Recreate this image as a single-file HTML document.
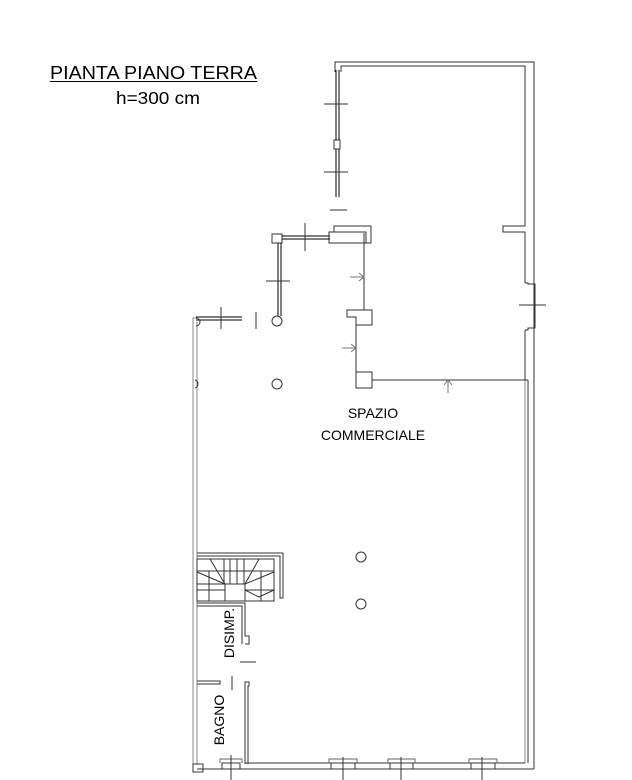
<!DOCTYPE html>
<html><head><meta charset="utf-8"><style>
html,body{margin:0;padding:0;background:#fff;}
svg{display:block;}
text{font-family:"Liberation Sans",Arial,sans-serif;fill:#000;}
</style></head><body>
<svg width="632" height="780" viewBox="0 0 632 780" xmlns="http://www.w3.org/2000/svg">
<text x="50" y="79" font-size="18" textLength="207" lengthAdjust="spacingAndGlyphs">PIANTA PIANO TERRA</text>
<line x1="50" y1="81.5" x2="257" y2="81.5" stroke="#000" stroke-width="1"/>
<text x="116" y="104" font-size="17.5" textLength="84" lengthAdjust="spacingAndGlyphs">h=300 cm</text>

<g fill="none" stroke="#333" stroke-width="1">
<polyline points="335,72 335,62 534,62 534,380"/>
<polyline points="341,72 341,66 525,66 525,226 503,226 503,232 525,232 525,283"/>
<line x1="525" y1="330" x2="525" y2="380" />
<line x1="534" y1="330" x2="534" y2="380"/>
<polyline points="525,283 528,283 528,284 535,284 535,328 528,328 528,330 525,330"/>
<line x1="519" y1="305" x2="546" y2="305"/>
<line x1="525" y1="380" x2="525" y2="763" stroke="#888"/>
<line x1="528" y1="380" x2="528" y2="763"/>
<line x1="534" y1="380" x2="534" y2="769"/>
<line x1="336" y1="70" x2="336" y2="197" stroke="#000" stroke-width="1"/>
<line x1="339" y1="70" x2="339" y2="197" stroke="#000" stroke-width="1"/>
<rect x="334" y="140" width="6" height="9" fill="#fff"/>
<line x1="324" y1="104" x2="348" y2="104"/>
<line x1="324" y1="172" x2="348" y2="172"/>
<line x1="330" y1="210" x2="347" y2="210"/>
<rect x="272" y="234" width="10" height="9" fill="#fff"/>
<line x1="282" y1="236" x2="330" y2="236" stroke="#000"/>
<line x1="282" y1="239" x2="330" y2="239" stroke="#000"/>
<line x1="305" y1="223" x2="305" y2="251"/>
<rect x="329" y="232" width="37" height="11"/>
<polyline points="334,232 334,226 371,226 371,243 366,243"/>
<line x1="364" y1="233" x2="364" y2="310"/>
<path d="M350 277 H364 M359 273 L364 277 L359 281" stroke="#777"/>
<polyline points="364,310 347,310 347,317 356,317 356,325 372,325 372,310 364,310"/>
<line x1="356" y1="325" x2="356" y2="372"/>
<path d="M342 348 H356 M351 344 L356 348 L351 352" stroke="#777"/>
<rect x="356" y="372" width="16" height="16"/>
<line x1="372" y1="380" x2="528" y2="380"/>
<path d="M448 380 V393 M444 385 L448 380 L452 385" stroke="#777"/>
<line x1="278" y1="243" x2="278" y2="316" stroke="#000"/>
<line x1="281" y1="243" x2="281" y2="316" stroke="#000"/>
<line x1="266" y1="281" x2="290" y2="281"/>
<circle cx="277" cy="321" r="5"/>
<line x1="256" y1="312" x2="256" y2="329"/>
<line x1="196" y1="317" x2="242" y2="317" stroke="#000"/>
<line x1="196" y1="320" x2="242" y2="320" stroke="#000"/>
<line x1="221" y1="307" x2="221" y2="329"/>
<polyline points="196,318 193,318 193,770" stroke="#888"/>
<line x1="197" y1="322" x2="197" y2="765" stroke="#888"/>
<path d="M195 380 a3 4 0 0 1 0 8" />
<path d="M196 318 a4 4 0 0 1 0 8"/>
<circle cx="277" cy="384" r="5"/>
<circle cx="361" cy="557" r="5"/>
<circle cx="361" cy="604" r="5"/>
<polyline points="197,553 283,553 283,598 280,598 280,556 197,556"/>
<rect x="197" y="559" width="77" height="42"/>
<line x1="197" y1="571" x2="274" y2="571"/>
<line x1="210" y1="559" x2="225" y2="584"/>
<line x1="197" y1="572" x2="225" y2="584"/>
<line x1="259" y1="559" x2="245" y2="584"/>
<line x1="274" y1="572" x2="245" y2="584"/>
<rect x="209" y="571" width="52" height="30"/>
<line x1="224" y1="559" x2="224" y2="584"/>
<line x1="230" y1="559" x2="230" y2="584"/>
<line x1="237" y1="559" x2="237" y2="584"/>
<line x1="244" y1="559" x2="244" y2="584"/>
<rect x="225" y="584" width="20" height="17"/>
<line x1="197" y1="584" x2="225" y2="584"/>
<line x1="197" y1="590" x2="225" y2="590"/>
<line x1="245" y1="590" x2="274" y2="590"/>
<line x1="245" y1="590" x2="259" y2="597"/>
<line x1="274" y1="590" x2="259" y2="597"/>
<polyline points="197,603 245,603 245,636 249,636 249,644 245,644"/>
<polyline points="197,606 242,606 242,644"/>
<line x1="240" y1="662" x2="256" y2="662"/>
<line x1="232" y1="676" x2="232" y2="690"/>
<polyline points="197,681 220,681 220,684 197,684"/>
<polyline points="245,764 245,682 249,682 249,686 248,686 248,764"/>
<line x1="245" y1="763" x2="525" y2="763"/>
<line x1="197" y1="769" x2="534" y2="769"/>
<rect x="193" y="764" width="10" height="8"/>
<g stroke="#666">
<polyline points="220,763 220,759 242,759 242,763"/>
<polyline points="329,763 329,759 357,759 357,763"/>
<polyline points="388,763 388,759 415,759 415,763"/>
<polyline points="469,763 469,759 497,759 497,763"/>
</g>
<rect x="222" y="763" width="18" height="6" fill="#fff"/>
<rect x="331" y="763" width="24" height="6" fill="#fff"/>
<rect x="390" y="763" width="23" height="6" fill="#fff"/>
<rect x="471" y="763" width="24" height="6" fill="#fff"/>
<line x1="231" y1="755" x2="231" y2="780"/>
<line x1="343" y1="757" x2="343" y2="780"/>
<line x1="401" y1="757" x2="401" y2="780"/>
<line x1="482" y1="757" x2="482" y2="780"/>
</g>
<text x="373" y="418" font-size="14" text-anchor="middle">SPAZIO</text>
<text x="373" y="440" font-size="14" text-anchor="middle">COMMERCIALE</text>
<text transform="translate(234,633) rotate(-90)" font-size="14" text-anchor="middle">DISIMP.</text>
<text transform="translate(224,720) rotate(-90)" font-size="14" text-anchor="middle">BAGNO</text>
</svg>
</body></html>
